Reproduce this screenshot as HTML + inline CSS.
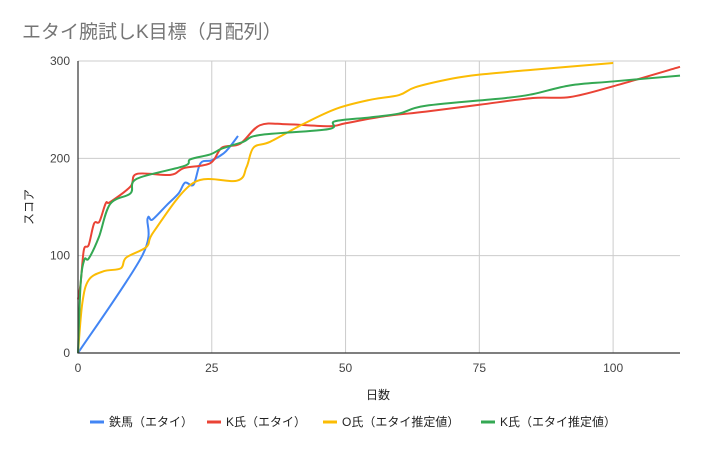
<!DOCTYPE html>
<html><head><meta charset="utf-8">
<style>
body{margin:0;background:#fff;}
svg text{font-family:"Liberation Sans","Noto Sans CJK JP",sans-serif;}
</style></head>
<body>
<svg id="chart" width="702" height="450" viewBox="0 0 702 450" xmlns="http://www.w3.org/2000/svg">
<rect width="702" height="450" fill="#fff"/>
<text x="22" y="38" font-size="19" fill="#757575">エタイ腕試しK目標（月配列）</text>
<g id="grid"></g>
<g id="series"></g>
<g id="axes"></g>
<text x="378" y="399" font-size="12" fill="#222" text-anchor="middle">日数</text>
<text x="33" y="207" font-size="12" fill="#222" text-anchor="middle" transform="rotate(-90 33 207)">スコア</text>
<g id="legend"></g>
</svg>
<script>
const xTicks=[0,25,50,75,100];
const yTicks=[0,100,200,300];
const seriesNames=["鉄馬（エタイ）","K氏（エタイ）","O氏（エタイ推定値）","K氏（エタイ推定値）"];
const seriesColors=["#4285f4","#ea4335","#fbbc04","#34a853"];
const blueX=[0,12,13,13.9,16.6,18.8,20,21.6,22.9,25,27.2,28.4,29.9];
const blueY=[0,100,138,137,152,164,175,173,195,198,205,212,223];
const redX=[0,0.5,1.1,2,3,4,5.2,6,9.8,11,17.3,19.8,24.7,26.9,30.3,34,39,47,50,57,65,75,85,92,100,113];
const redY=[55,72,106,111,133,135,154,155,171,184,183,190,195,211,215,234,235,233,236,243,248,255,262,263,274,294];
const yellowX=[0,0.8,2,4.8,8,9,12.8,14.2,21.6,29.7,31.5,32.8,35.9,42,48.3,54.5,60,63,70,75,85,100];
const yellowY=[0,51,75,84,87,98,109,125,175,177,191,211,217,235,251,260,265,273,282,286,291,298];
const greenX=[0,0.5,1.2,2,3.9,6,9.8,11,19.8,21,24.7,26.9,30.9,34,46.8,48,54.5,60,65,80,85,92,100,113];
const greenY=[0,72,96,97,119,153,164,179,192,199,204,210,217,224,230,238,242,246,254,262,266,275,279,285];
const allX=[blueX,redX,yellowX,greenX], allY=[blueY,redY,yellowY,greenY];
const X0=78,X1=680,XMAX=112.5,Y0=353,Y1=61,YMAX=300;
const sx=v=>X0+(X1-X0)*v/XMAX, sy=v=>Y0-(Y0-Y1)*v/YMAX;
const NS="http://www.w3.org/2000/svg";
function mk(t,a,p){const e=document.createElementNS(NS,t);for(const k in a)e.setAttribute(k,a[k]);p.appendChild(e);return e;}
const grid=document.getElementById('grid'),axes=document.getElementById('axes'),ser=document.getElementById('series'),leg=document.getElementById('legend');
xTicks.forEach(t=>{
  if(t>0){const l=mk('line',{x1:sx(t),x2:sx(t),y1:Y1,y2:Y0,stroke:'#ccc','stroke-width':1},grid);
  
  }
  const tx=mk('text',{x:sx(t),y:372,'font-size':12,fill:'#444','text-anchor':'middle'},axes);tx.textContent=t;
  
  
});
yTicks.forEach(t=>{
  if(t>0){const l=mk('line',{x1:X0,x2:X1,y1:sy(t),y2:sy(t),stroke:'#ccc','stroke-width':1},grid);
  
  }
  const tx=mk('text',{x:70,y:sy(t)+4,'font-size':12,fill:'#444','text-anchor':'end'},axes);tx.textContent=t;
  
  
});
const ax=mk('path',{d:`M${X0} ${Y1}V${Y0}H${X1}`,stroke:'#333','stroke-width':1.2,fill:'none'},axes);


function smooth(pts){let d=`M${pts[0][0]} ${pts[0][1]}`;for(let i=0;i<pts.length-1;i++){const p0=pts[Math.max(0,i-1)],p1=pts[i],p2=pts[i+1],p3=pts[Math.min(pts.length-1,i+2)];const c1x=p1[0]+(p2[0]-p0[0])/6,c1y=p1[1]+(p2[1]-p0[1])/6,c2x=p2[0]-(p3[0]-p1[0])/6,c2y=p2[1]-(p3[1]-p1[1])/6;d+=`C${c1x} ${c1y} ${c2x} ${c2y} ${p2[0]} ${p2[1]}`;}return d;}
const order=[0,1,2,3];
order.forEach(i=>{
  const pts=allX[i].map((x,j)=>[sx(Math.min(x,XMAX)),sy(allY[i][j])]);
  const p=mk('path',{d:smooth(pts),stroke:seriesColors[i],'stroke-width':2,fill:'none','stroke-linejoin':'round'},ser);
  
  
});
const legX=[90,207,323,481];
seriesNames.forEach((n,i)=>{
  const g=mk('g',{},leg);
  
  
  mk('line',{x1:legX[i],x2:legX[i]+14,y1:422,y2:422,stroke:seriesColors[i],'stroke-width':3},g);
  const t=mk('text',{x:legX[i]+19,y:426,'font-size':12,fill:'#222'},g);t.textContent=n;
});
</script>
</body></html>
